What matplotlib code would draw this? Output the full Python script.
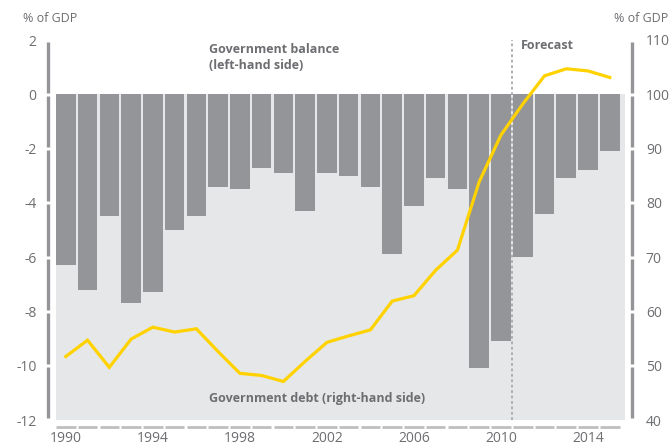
import matplotlib
matplotlib.use("Agg")
import matplotlib.pyplot as plt

plt.rcParams['font.family'] = ['Open Sans', 'DejaVu Sans']

# data
years = list(range(1990, 2016))
balance = [-6.3, -7.2, -4.5, -7.7, -7.3, -5.0, -4.5, -3.4, -3.5, -2.7, -2.9, -4.3, -2.9,
           -3.0, -3.4, -5.9, -4.1, -3.1, -3.5, -10.1, -9.1, -6.0, -4.4, -3.1, -2.8, -2.1]
debt = [51.7, 54.7, 49.7, 54.9, 57.1, 56.2, 56.8, 52.6, 48.6, 48.2, 47.1, 50.8, 54.3,
        55.5, 56.6, 61.9, 62.9, 67.6, 71.3, 83.9, 92.5, 98.2, 103.4, 104.7, 104.3, 103.1]
left_ticks = [2, 0, -2, -4, -6, -8, -10, -12]
right_ticks = [110, 100, 90, 80, 70, 60, 50, 40]
xtick_years = [1990, 1994, 1998, 2002, 2006, 2010, 2014]
forecast_start = 2010.5

bar_col = '#939598'
bg_col = '#e6e7e8'
txt_col = '#6d6e71'
yellow = '#ffd200'

fig = plt.figure(figsize=(6.71, 4.48), dpi=100)
ax = fig.add_axes([56/671, 28/448, 569/671, 380/448])
ax.set_xlim(1989.55, 2015.7)
ax.set_ylim(-12, 2)

# grey panel only below zero
ax.axhspan(-12, 0, color=bg_col, zorder=0, lw=0)
ax.bar(years, balance, width=0.9, color=bar_col, zorder=2)

ax2 = ax.twinx()
ax2.set_ylim(40, 110)
ax2.plot(years, debt, color=yellow, lw=2.3, zorder=4, solid_joinstyle='miter')

ax.axvline(forecast_start, color='#a7a9ac', lw=1.3, ls=(0, (1.5, 1.5)), zorder=3)

for a in (ax, ax2):
    for s in a.spines.values():
        s.set_visible(False)
    a.tick_params(length=0, colors=txt_col, labelsize=10)

ax.set_yticks(left_ticks)
ax.set_yticklabels([str(t) for t in left_ticks])
ax.tick_params(axis='y', pad=14)
ax2.set_yticks(right_ticks)
ax2.tick_params(axis='y', pad=15)
ax.set_xticks(xtick_years)
ax.tick_params(axis='x', pad=8)

# broken axis lines
gap = 0.06
for hi, lo in zip(left_ticks[:-1], left_ticks[1:]):
    ax.vlines(-8/569, lo + gap, hi - gap, transform=ax.get_yaxis_transform(),
              color=bar_col, lw=2.4, clip_on=False)
gap2 = gap * 5
for hi, lo in zip(right_ticks[:-1], right_ticks[1:]):
    ax2.vlines(1 + 7/569, lo + gap2, hi - gap2, transform=ax2.get_yaxis_transform(),
               color=bar_col, lw=2.4, clip_on=False)
for yr in years:
    ax.hlines(-7/380, yr - 0.45, yr + 0.45, transform=ax.get_xaxis_transform(),
              color='#bcbec0', lw=2, clip_on=False)

fig.text(23/671, 1 - 19/448, '% of GDP', color=txt_col, fontsize=9, va='center')
fig.text(668/671, 1 - 19/448, '% of GDP', color=txt_col, fontsize=9, va='center', ha='right')

ax.text(1996.6, 1.35, 'Government balance\n(left-hand side)', color=txt_col, fontsize=9,
        fontweight='bold', va='center', linespacing=1.3)
ax.text(1996.6, -11.2, 'Government debt (right-hand side)', color=txt_col, fontsize=9,
        fontweight='bold', va='center')
ax.text(forecast_start + 0.4, 1.8, 'Forecast', color=txt_col, fontsize=9,
        fontweight='bold', va='center')

fig.savefig('out.png', dpi=100)
